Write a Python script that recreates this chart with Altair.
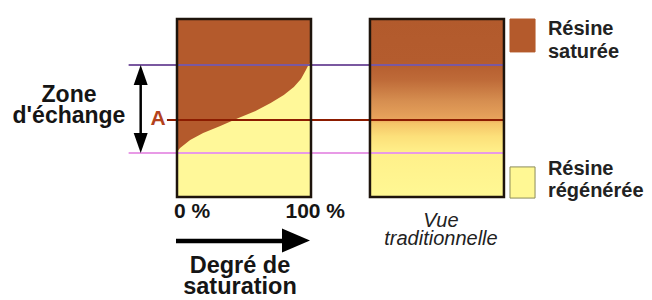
import altair as alt
import pandas as pd

# ---- data (units: x = degree of saturation %, y = bed depth % from top of column)
front_sat = [0, 2.3, 9.8, 19.5, 32.3, 45.9, 58.6, 69.9, 79.7, 87.2, 92.5, 96.2, 98.5, 100]
front_depth = [74.7, 72.5, 68.0, 64.0, 60.1, 55.6, 51.7, 47.2, 42.7, 38.2, 33.7, 28.7, 25.3, 24.7]

line_names = ["haut", "A", "bas"]
line_depth = [25.8, 56.7, 75.3]
line_x0 = [-36.1, -7.5, -36.1]
line_x1 = [244.0, 244.0, 244.0]
line_colors = ["#7a58a0", "#8c1c00", "#e89ae6"]

box_names = ["profil", "vue"]
box_x0 = [0, 144]
box_x1 = [100, 244]
box_y0 = [0, 0]
box_y1 = [100, 100]

legend_labels = ["Résine\nsaturée", "Résine\nrégénérée"]
legend_colors = ["#b45a2c", "#fff894"]
legend_strokes = ["#b45a2c", "#8c8c5a"]
legend_y0 = [0, 83.1]
legend_y1 = [18.5, 100.6]
legend_text_y = [9.0, 87.6]

tick_labels = ["0 %", "100 %"]
brown = "#b45a2c"
yellow = "#fff899"

W, H = 636, 290
xs = alt.Scale(domain=[-126.12, 348.51], nice=False, zero=False)
ys = alt.Scale(domain=[-6.18, 156.74], nice=False, zero=False, reverse=True)


def X(f, **k):
    return alt.X(f, type="quantitative", scale=xs, axis=None, **k)


def Y(f, **k):
    return alt.Y(f, type="quantitative", scale=ys, axis=None, **k)


boxes = pd.DataFrame({"name": box_names, "x0": box_x0, "x1": box_x1, "y0": box_y0, "y1": box_y1})
layers = []

# left column background (regenerated resin)
layers.append(alt.Chart(boxes.iloc[[0]]).mark_rect(fill=yellow).encode(
    x=X("x0"), x2="x1", y=Y("y0"), y2="y1"))

# saturated resin: from the top of the column down to the saturation front
front = pd.DataFrame({"sat": front_sat, "depth": front_depth, "top": [0] * len(front_sat)})
layers.append(alt.Chart(front).mark_area(color=brown, opacity=1).encode(
    x=X("sat"), y=Y("depth"), y2="top"))

# right column gradient
grad = alt.LinearGradient(
    gradient="linear", x1=0, x2=0, y1=0, y2=1,
    stops=[
        alt.GradientStop(color="#b25a2c", offset=0),
        alt.GradientStop(color="#b45c2e", offset=0.24),
        alt.GradientStop(color="#be6a38", offset=0.34),
        alt.GradientStop(color="#d68e50", offset=0.46),
        alt.GradientStop(color="#e8a45c", offset=0.565),
        alt.GradientStop(color="#f5c468", offset=0.585),
        alt.GradientStop(color="#fce07a", offset=0.66),
        alt.GradientStop(color="#fff08a", offset=0.75),
        alt.GradientStop(color="#fff894", offset=1),
    ])
layers.append(alt.Chart(boxes.iloc[[1]]).mark_rect(fill=grad).encode(
    x=X("x0"), x2="x1", y=Y("y0"), y2="y1"))

# horizontal lines
lines = pd.DataFrame({"name": line_names, "d": line_depth, "x0": line_x0, "x1": line_x1, "c": line_colors})
layers.append(alt.Chart(lines).mark_rule(strokeWidth=2).encode(
    x=X("x0"), x2="x1", y=Y("d"), color=alt.Color("c:N", scale=None)))

# column borders
layers.append(alt.Chart(boxes).mark_rect(fill=None, stroke="#1e140c", strokeWidth=2.5).encode(
    x=X("x0"), x2="x1", y=Y("y0"), y2="y1"))

# legend squares
leg = pd.DataFrame({"x0": [248.5, 248.5], "x1": [267.2, 267.2], "y0": legend_y0, "y1": legend_y1,
                    "c": legend_colors, "s": legend_strokes})
layers.append(alt.Chart(leg).mark_rect(strokeWidth=1).encode(
    x=X("x0"), x2="x1", y=Y("y0"), y2="y1",
    fill=alt.Fill("c:N", scale=None), stroke=alt.Stroke("s:N", scale=None)))

# vertical double arrow (exchange zone)
varrow = pd.DataFrame({"x": [-27.1, -27.1], "y": [34.0, 67.2]})
layers.append(alt.Chart(varrow).mark_line(color="black", strokeWidth=2.5).encode(
    x=X("x"), y=Y("y")))
vheads = pd.DataFrame({"x": [-27.1], "y": [31.5]})
layers.append(alt.Chart(vheads).mark_point(shape="M0,-1L0.7,1L-0.7,1Z", size=400, filled=True,
                                           color="black", opacity=1, strokeWidth=0).encode(
    x=X("x"), y=Y("y")))
vheads2 = pd.DataFrame({"x": [-27.1], "y": [69.7]})
layers.append(alt.Chart(vheads2).mark_point(shape="M0,1L0.7,-1L-0.7,-1Z", size=400, filled=True,
                                            color="black", opacity=1, strokeWidth=0).encode(
    x=X("x"), y=Y("y")))

# horizontal arrow (degree of saturation)
harrow = pd.DataFrame({"x": [-0.75, 80.6], "y": [124.7, 124.7]})
layers.append(alt.Chart(harrow).mark_line(color="black", strokeWidth=4.5).encode(
    x=X("x"), y=Y("y")))
hhead = pd.DataFrame({"x": [88.8], "y": [124.5]})
layers.append(alt.Chart(hhead).mark_point(shape="M-1,-0.857L1,0L-1,0.857Z", size=784, filled=True,
                                          color="black", opacity=1, strokeWidth=0).encode(
    x=X("x"), y=Y("y")))


def texts(rows, size, align="center", color="#151515", weight="bold", style="normal", lh=None):
    df = pd.DataFrame(rows, columns=["t", "x", "y"])
    kw = {}
    if lh is not None:
        kw = {"lineBreak": "\n", "lineHeight": lh}
    return alt.Chart(df).mark_text(font="Liberation Sans", fontSize=size, fontWeight=weight,
                                   fontStyle=style, align=align, baseline="alphabetic",
                                   color=color, **kw).encode(x=X("x"), y=Y("y"), text="t:N")


layers.append(texts([["Zone\nd'échange", -80.6, 46.6]], 23, lh=21))
layers.append(texts([["A", -14.2, 59.6]], 21, color="#b3421c"))
layers.append(texts([[tick_labels[0], -2.2, 111.8]], 21, align="left"))
layers.append(texts([[tick_labels[1], 125.4, 111.8]], 21, align="right"))
layers.append(texts([["Degré de\nsaturation", 47.0, 142.5]], 23.5, lh=21.6))
layers.append(texts([["Vue\ntraditionnelle", 197.0, 116.9]], 20,
                    weight="normal", style="italic", color="#222", lh=18))
layers.append(texts([[legend_labels[0], 276.8, legend_text_y[0]],
                     [legend_labels[1], 276.8, legend_text_y[1]]],
                    20, align="left", color="#222", lh=22.5))

chart = alt.layer(*layers).properties(
    width=W, height=H, padding=0, autosize=alt.AutoSizeParams(type="none"),
    background="white"
).configure_view(stroke=None)

chart.save("out.html", embed_options={"renderer": "svg", "actions": False})
